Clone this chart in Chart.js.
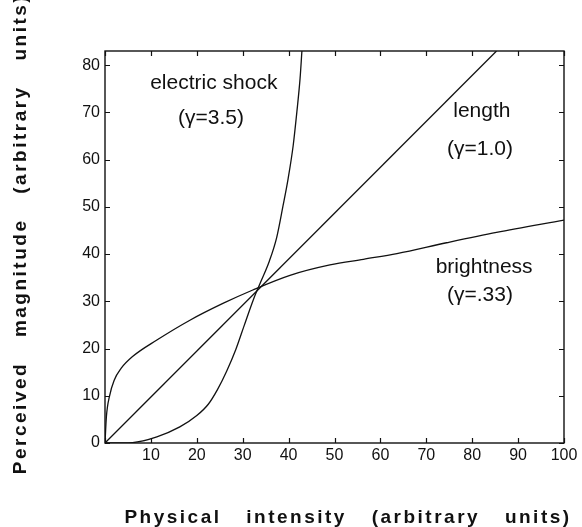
<!DOCTYPE html>
<html>
<head>
<meta charset="utf-8">
<script src="https://cdn.jsdelivr.net/npm/chart.js@4/dist/chart.umd.min.js"></script>
<style>
  html, body { margin: 0; padding: 0; background: #fff; }
  #wrap { width: 582px; height: 527px; }
</style>
</head>
<body>
<div id="wrap"><canvas id="chart" width="582" height="527"></canvas></div>
<script>
// values (Stevens power law curves)
const xTickValues = [0, 10, 20, 30, 40, 50, 60, 70, 80, 90, 100];
const xTickLabels = ["", "10", "20", "30", "40", "50", "60", "70", "80", "90", "100"];
const yTickValues = [0, 10, 20, 30, 40, 50, 60, 70, 80];
const yTickLabels = ["0", "10", "20", "30", "40", "50", "60", "70", "80"];

const shockX = [0, 6, 11.3, 16.3, 20, 22.5, 24.5, 26.5, 28.5, 30.3, 32.3, 34.1, 35.8, 37.4, 38.8, 39.9, 41, 41.8, 42.5, 42.9];
const shockY = [0, 0.1, 1.3, 3.4, 5.8, 8.2, 11.3, 15.2, 19.8, 24.8, 30.3, 34.5, 38.5, 43.5, 50.3, 56, 63, 70.1, 77.2, 83];

const lengthX = [0, 85.3];
const lengthY = [0, 83];

const brightX = [0, 0.3, 1, 2, 3.5, 6, 11.3, 18.5, 25.8, 32.2, 40.3, 49, 56.3, 63.6, 74.4, 85.3, 100];
const brightY = [0, 5.5, 10, 13.3, 15.8, 18.3, 21.8, 26, 29.6, 32.4, 35.5, 37.7, 38.9, 40.1, 42.4, 44.6, 47.2];

const Y_MAX = 83;

// curve annotations, placed in data units
const curveLabels = [
  { text: "electric shock", x: 23.7, y: 74.9 },
  { text: "(\u03b3=3.5)", x: 23.1, y: 67.5 },
  { text: "length", x: 82.1, y: 69.0 },
  { text: "(\u03b3=1.0)", x: 81.7, y: 60.9 },
  { text: "brightness", x: 82.6, y: 36.0 },
  { text: "(\u03b3=.33)", x: 81.7, y: 30.0 },
];

const INK = "#111";

function toPoints(xs, ys) {
  return xs.map((x, i) => ({ x, y: ys[i] }));
}

function curve(xs, ys) {
  return {
    data: toPoints(xs, ys),
    borderColor: INK,
    borderWidth: 1.3,
    pointRadius: 0,
    fill: false,
    cubicInterpolationMode: "monotone",
  };
}

// frame with inward ticks on all four sides, curve labels and axis titles
const framePlugin = {
  id: "frame",
  afterDatasetsDraw(chart) {
    const { ctx, chartArea: a } = chart;
    const xs = chart.scales.x, ys = chart.scales.y;
    const tl = 5;
    ctx.save();
    ctx.strokeStyle = INK;
    ctx.lineWidth = 1.4;
    ctx.strokeRect(a.left, a.top, a.right - a.left, a.bottom - a.top);
    ctx.lineWidth = 1.2;
    ctx.beginPath();
    xTickValues.forEach((v) => {
      const px = Math.round(xs.getPixelForValue(v)) + 0.5;
      ctx.moveTo(px, a.bottom); ctx.lineTo(px, a.bottom - tl);
      ctx.moveTo(px, a.top); ctx.lineTo(px, a.top + tl);
    });
    yTickValues.forEach((v) => {
      const py = Math.round(ys.getPixelForValue(v)) + 0.5;
      ctx.moveTo(a.left, py); ctx.lineTo(a.left + tl, py);
      ctx.moveTo(a.right, py); ctx.lineTo(a.right - tl, py);
    });
    ctx.stroke();

    ctx.fillStyle = INK;
    ctx.font = "21px 'Liberation Sans', Arial, sans-serif";
    ctx.textAlign = "center";
    ctx.textBaseline = "alphabetic";
    curveLabels.forEach((l) => {
      ctx.fillText(l.text, xs.getPixelForValue(l.x), ys.getPixelForValue(l.y));
    });

    ctx.font = "bold 19px 'Liberation Sans', Arial, sans-serif";
    ctx.letterSpacing = "2.5px";
    ctx.wordSpacing = "17px";
    ctx.fillText("Physical intensity (arbitrary units)", 348, 523);
    ctx.translate(26, 234);
    ctx.rotate(-Math.PI / 2);
    ctx.fillText("Perceived magnitude (arbitrary units)", 0, 0);
    ctx.restore();
  },
};

const tickFont = { family: "'Liberation Sans', Arial, sans-serif", size: 16 };

new Chart(document.getElementById("chart"), {
  type: "line",
  data: {
    datasets: [
      curve(shockX, shockY),
      curve(lengthX, lengthY),
      curve(brightX, brightY),
    ],
  },
  options: {
    responsive: false,
    animation: false,
    layout: { padding: { left: 0, top: 51, right: 18, bottom: 0 } },
    plugins: { legend: { display: false }, tooltip: { enabled: false } },
    scales: {
      x: {
        type: "linear",
        min: 0,
        max: 100,
        afterBuildTicks: (s) => { s.ticks = xTickValues.map((v) => ({ value: v })); },
        afterFit: (s) => { s.height = 84; },
        ticks: {
          color: INK,
          font: tickFont,
          padding: 3,
          maxRotation: 0,
          autoSkip: false,
          callback: (v, i) => xTickLabels[i],
        },
        grid: { display: false, drawTicks: false },
        border: { display: false },
      },
      y: {
        type: "linear",
        min: 0,
        max: Y_MAX,
        afterBuildTicks: (s) => { s.ticks = yTickValues.map((v) => ({ value: v })); },
        afterFit: (s) => { s.width = 105; },
        ticks: {
          color: INK,
          font: tickFont,
          padding: 5,
          autoSkip: false,
          callback: (v, i) => yTickLabels[i],
        },
        grid: { display: false, drawTicks: false },
        border: { display: false },
      },
    },
  },
  plugins: [framePlugin],
});
</script>
</body>
</html>
